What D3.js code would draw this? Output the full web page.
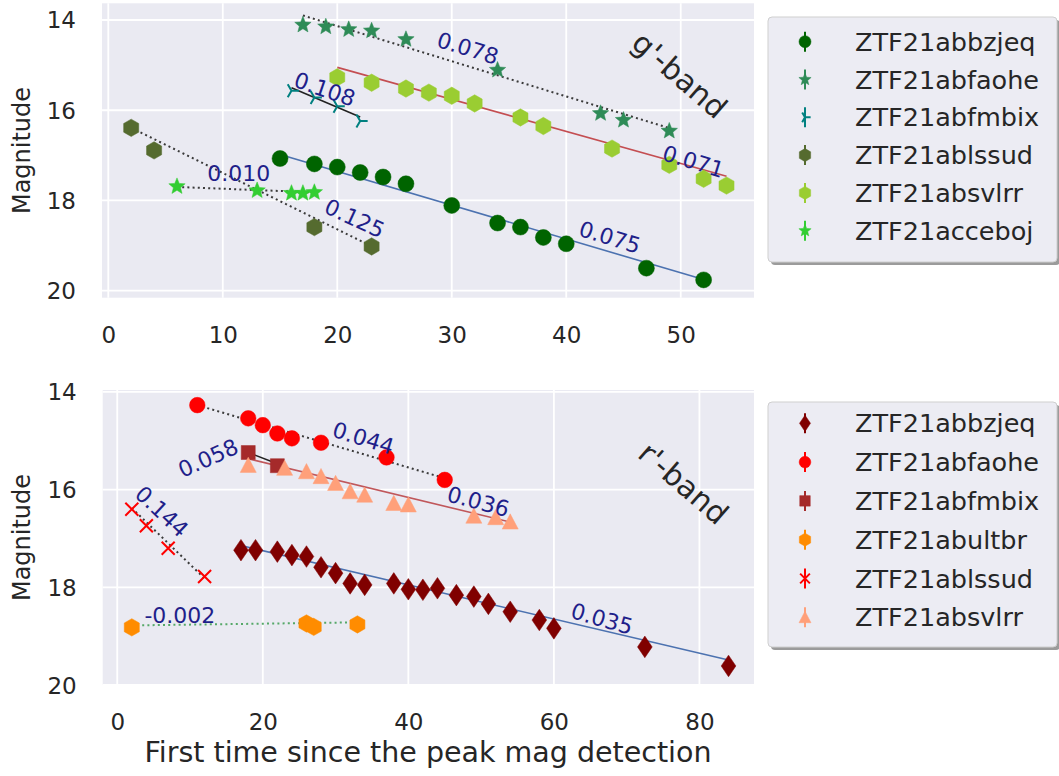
<!DOCTYPE html>
<html>
<head>
<meta charset="utf-8">
<script src="https://cdn.jsdelivr.net/npm/d3@7"></script>
<style>
  body { margin: 0; background: #ffffff; }
  text { font-family: "DejaVu Sans", "Liberation Sans", sans-serif; fill: #262626; }
</style>
</head>
<body>
<svg id="chart" width="1059" height="776"></svg>
<script>
// ---------------- g'-band light curves ----------------
const gObjects = ["ZTF21abbzjeq", "ZTF21abfaohe", "ZTF21abfmbix", "ZTF21ablssud", "ZTF21absvlrr", "ZTF21acceboj"];
const gDays = [
  [15, 18, 20, 22, 24, 26, 30, 34, 36, 38, 40, 47, 52],
  [17, 19, 21, 23, 26, 34, 43, 45, 49],
  [16, 18, 20, 22],
  [2, 4, 18, 23],
  [20, 23, 26, 28, 30, 32, 36, 38, 44, 49, 52, 54],
  [6, 13, 16, 17, 18]
];
const gMags = [
  [17.07, 17.19, 17.26, 17.38, 17.48, 17.63, 18.11, 18.50, 18.59, 18.82, 18.96, 19.50, 19.76],
  [14.11, 14.15, 14.21, 14.24, 14.43, 15.11, 16.07, 16.22, 16.46],
  [15.57, 15.72, 15.91, 16.24],
  [16.39, 16.89, 18.59, 19.02],
  [15.27, 15.39, 15.52, 15.61, 15.68, 15.85, 16.16, 16.35, 16.85, 17.21, 17.52, 17.67],
  [17.69, 17.78, 17.84, 17.84, 17.82]
];
// linear decline fits: mag = intercept + slope * day
const gSlopes = [0.075, 0.078, 0.108, 0.125, 0.071, 0.010];
const gIntercepts = [15.854, 12.574, 13.772, 16.140, 13.630, 17.640];

// ---------------- r'-band light curves ----------------
const rObjects = ["ZTF21abbzjeq", "ZTF21abfaohe", "ZTF21abfmbix", "ZTF21abultbr", "ZTF21ablssud", "ZTF21absvlrr"];
const rDays = [
  [17, 19, 22, 24, 26, 28, 30, 32, 34, 38, 40, 42, 44, 46.6, 49, 51, 54, 58, 60, 72.5, 84],
  [11, 18, 20, 22, 24, 28, 37, 45],
  [18, 22],
  [2, 26, 27, 33],
  [2, 4, 7, 12],
  [18, 23, 26, 28, 30, 32, 34, 38, 40, 49, 52, 54]
];
const rMags = [
  [17.24, 17.24, 17.27, 17.34, 17.37, 17.59, 17.71, 17.92, 17.95, 17.92, 18.04, 18.05, 18.02, 18.16, 18.19, 18.34, 18.50, 18.67, 18.84, 19.22, 19.61],
  [14.27, 14.54, 14.68, 14.85, 14.95, 15.04, 15.34, 15.80],
  [15.24, 15.51],
  [18.82, 18.74, 18.81, 18.76],
  [16.40, 16.74, 17.20, 17.78],
  [15.50, 15.56, 15.63, 15.73, 15.87, 16.04, 16.11, 16.28, 16.31, 16.54, 16.57, 16.66]
];
const rSlopes = [0.035, 0.044, 0.058, -0.002, 0.144, 0.036];
const rIntercepts = [16.550, 13.786, 14.196, 18.784, 16.090, 14.720];

// axis ticks
const gDayTicks = [0, 10, 20, 30, 40, 50];
const rDayTicks = [0, 20, 40, 60, 80];
const magTicks = [14, 16, 18, 20];

// ---------------- styling ----------------
const gStyle = {
  colors: ["#006400", "#2e8b57", "#008080", "#556b2f", "#9acd32", "#32cd32"],
  markers: ["circle", "star", "tri_right", "hexagon", "hexagon", "star"],
  sizes: [8, 8.6, 7.5, 8.7, 8.7, 8.6],
  fitColors: ["#4c72b0", "#3a3a3a", "#222222", "#3a3a3a", "#c44e52", "#3a3a3a"],
  fitDash: [null, "2,3.2", null, "2,3.2", null, "2,3.2"],
  // slope annotation anchors (day, mag) and text angle
  labelAt: [[43.8, 18.82], [31.4, 14.63], [18.9, 15.54], [21.5, 18.40], [51.1, 17.14], [11.4, 17.40]],
  labelAngle: [17, 17, 19, 25, 17, 0]
};
const rStyle = {
  colors: ["#800000", "#ff0000", "#a52a2a", "#ff8c00", "#ff0000", "#ffa07a"],
  markers: ["thin_diamond", "circle", "square", "hexagon", "x", "triangle_up"],
  sizes: [10.8, 7.8, 7, 8.7, 6.5, 8],
  fitColors: ["#4c72b0", "#3a3a3a", "#222222", "#55a868", "#3a3a3a", "#c0575b"],
  fitDash: [null, "2,3.2", null, "2,3.2", "2,3.2", null],
  labelAt: [[66.6, 18.65], [33.8, 14.95], [12.5, 15.36], [8.6, 18.57], [6.1, 16.45], [49.6, 16.25]],
  labelAngle: [16, 17, -24, 0, 43, 15]
};

const svg = d3.select("#chart");

function markerPath(kind, r) {
  const p = d3.path();
  if (kind === "circle") {
    return d3.symbol(d3.symbolCircle, Math.PI * r * r)();
  } else if (kind === "star") {
    for (let i = 0; i < 10; i++) {
      const a = (-90 + i * 36) * Math.PI / 180;
      const rr = i % 2 ? r * 0.44 : r;
      i ? p.lineTo(rr * Math.cos(a), rr * Math.sin(a)) : p.moveTo(rr * Math.cos(a), rr * Math.sin(a));
    }
    p.closePath();
  } else if (kind === "hexagon") {
    for (let i = 0; i < 6; i++) {
      const a = (-90 + i * 60) * Math.PI / 180;
      i ? p.lineTo(r * Math.cos(a), r * Math.sin(a)) : p.moveTo(r * Math.cos(a), r * Math.sin(a));
    }
    p.closePath();
  } else if (kind === "thin_diamond") {
    p.moveTo(0, -r); p.lineTo(0.68 * r, 0); p.lineTo(0, r); p.lineTo(-0.68 * r, 0); p.closePath();
  } else if (kind === "square") {
    p.rect(-r, -r, 2 * r, 2 * r);
  } else if (kind === "triangle_up") {
    p.moveTo(0, -r); p.lineTo(r, r * 0.9); p.lineTo(-r, r * 0.9); p.closePath();
  } else if (kind === "x") {
    p.moveTo(-r, -r); p.lineTo(r, r); p.moveTo(-r, r); p.lineTo(r, -r);
  } else if (kind === "tri_right") {
    p.moveTo(0, 0); p.lineTo(r, 0);
    p.moveTo(0, 0); p.lineTo(-0.5 * r, -0.866 * r);
    p.moveTo(0, 0); p.lineTo(-0.5 * r, 0.866 * r);
  }
  return p.toString();
}
const strokeOnly = k => k === "x" || k === "tri_right";

function drawPanel(cfg) {
  const { top, bottom, left, right, xDomain, yDomain, xTicks, names, days, mags, slopes, intercepts, style, band, bandAt } = cfg;
  const x = d3.scaleLinear().domain(xDomain).range([left, right]);
  const y = d3.scaleLinear().domain(yDomain).range([top, bottom]);
  const g = svg.append("g");

  g.append("rect").attr("x", left).attr("y", top)
    .attr("width", right - left).attr("height", bottom - top).attr("fill", "#eaeaf2");

  // grid
  const grid = g.append("g");
  grid.selectAll("line.vx").data(xTicks).join("line")
    .attr("x1", d => x(d)).attr("x2", d => x(d)).attr("y1", top).attr("y2", bottom)
    .attr("stroke", "#ffffff").attr("stroke-width", 1.8);
  grid.selectAll("line.hy").data(magTicks.filter(d => y(d) <= bottom + 0.5)).join("line")
    .attr("x1", left).attr("x2", right).attr("y1", d => y(d)).attr("y2", d => y(d))
    .attr("stroke", "#ffffff").attr("stroke-width", 1.8);

  // axes (tick labels only, no spines)
  const xAxis = d3.axisBottom(x).tickValues(xTicks).tickSize(0).tickPadding(0).tickFormat(d3.format("d"));
  const xa = g.append("g").attr("transform", `translate(0,${bottom})`).call(xAxis);
  xa.select(".domain").remove();
  xa.selectAll("text").attr("dy", null).attr("y", 37).attr("dominant-baseline", "central")
    .style("font-size", "23px").style("font-family", "DejaVu Sans").attr("fill", "#262626");

  const yAxis = d3.axisLeft(y).tickValues(magTicks).tickSize(0).tickPadding(0).tickFormat(d3.format("d"));
  const ya = g.append("g").attr("transform", `translate(${left},0)`).call(yAxis);
  ya.select(".domain").remove();
  ya.selectAll("text").attr("dy", null).attr("x", -26).attr("dominant-baseline", "central")
    .style("font-size", "23px").style("font-family", "DejaVu Sans").attr("fill", "#262626");

  g.append("text").attr("transform", `translate(22,${(top + bottom) / 2}) rotate(-90)`)
    .attr("text-anchor", "middle").attr("dominant-baseline", "central")
    .style("font-size", "24px").text("Magnitude");

  // fitted decline lines
  names.forEach((n, i) => {
    const x0 = d3.min(days[i]), x1 = d3.max(days[i]);
    g.append("line")
      .attr("x1", x(x0)).attr("y1", y(intercepts[i] + slopes[i] * x0))
      .attr("x2", x(x1)).attr("y2", y(intercepts[i] + slopes[i] * x1))
      .attr("stroke", style.fitColors[i])
      .attr("stroke-width", style.fitDash[i] ? 2 : 1.6)
      .attr("stroke-dasharray", style.fitDash[i]);
  });

  // photometry points
  names.forEach((n, i) => {
    const k = style.markers[i];
    const pts = days[i].map((d, j) => [d, mags[i][j]]);
    g.append("g").selectAll("path").data(pts).join("path")
      .attr("transform", d => `translate(${x(d[0])},${y(d[1])})`)
      .attr("d", markerPath(k, style.sizes[i]))
      .attr("fill", strokeOnly(k) ? "none" : style.colors[i])
      .attr("stroke", style.colors[i])
      .attr("stroke-width", strokeOnly(k) ? 2 : 0.5);
  });

  // slope annotations
  names.forEach((n, i) => {
    const [lx, ly] = style.labelAt[i];
    g.append("text")
      .attr("transform", `translate(${x(lx)},${y(ly)}) rotate(${style.labelAngle[i]})`)
      .attr("text-anchor", "middle").attr("dominant-baseline", "central")
      .style("font-size", "22px").style("fill", "#1f1f8a")
      .text(d3.format(".3f")(slopes[i]).replace("−", "-"));
  });

  // band name
  g.append("text")
    .attr("transform", `translate(${x(bandAt[0])},${y(bandAt[1])}) rotate(41)`)
    .attr("text-anchor", "middle").attr("dominant-baseline", "central")
    .style("font-size", "30px").text(band);

  // legend
  const lg = cfg.legend;
  g.append("rect").attr("x", lg.x + 3).attr("y", lg.y + 3).attr("width", lg.w).attr("height", lg.h)
    .attr("rx", 4).attr("fill", "#7a7a7a").attr("opacity", 0.75);
  g.append("rect").attr("x", lg.x).attr("y", lg.y).attr("width", lg.w).attr("height", lg.h)
    .attr("rx", 4).attr("fill", "#ececf3").attr("stroke", "#cfcfcf").attr("stroke-width", 1);
  names.forEach((n, i) => {
    const cy = lg.y + lg.first + i * lg.step;
    const k = style.markers[i];
    g.append("line").attr("x1", lg.x + 37).attr("x2", lg.x + 37)
      .attr("y1", cy - 10).attr("y2", cy + 10)
      .attr("stroke", style.colors[i]).attr("stroke-width", 2);
    g.append("path").attr("transform", `translate(${lg.x + 37},${cy})`)
      .attr("d", markerPath(k, style.sizes[i] * 0.75))
      .attr("fill", strokeOnly(k) ? "none" : style.colors[i])
      .attr("stroke", style.colors[i]).attr("stroke-width", strokeOnly(k) ? 2 : 0.5);
    g.append("text").attr("x", lg.x + 87).attr("y", cy)
      .attr("dominant-baseline", "central").style("font-size", "25.5px").text(n);
  });
}

drawPanel({
  top: 3.3, bottom: 297.7, left: 102, right: 754,
  xDomain: [-0.55, 56.4], yDomain: [13.63, 20.155], xTicks: gDayTicks,
  names: gObjects, days: gDays, mags: gMags, slopes: gSlopes, intercepts: gIntercepts,
  style: gStyle, band: "g'-band", bandAt: [49.9, 15.22],
  legend: { x: 768, y: 17, w: 289, h: 245, first: 24.7, step: 37.8 }
});
drawPanel({
  top: 390, bottom: 685, left: 102.7, right: 754,
  xDomain: [-2.0, 87.5], yDomain: [13.96, 20.0], xTicks: rDayTicks,
  names: rObjects, days: rDays, mags: rMags, slopes: rSlopes, intercepts: rIntercepts,
  style: rStyle, band: "r'-band", bandAt: [77.8, 15.87],
  legend: { x: 768, y: 402, w: 289, h: 245, first: 21.3, step: 38.8 }
});

svg.append("text").attr("x", 428).attr("y", 752)
  .attr("text-anchor", "middle").attr("dominant-baseline", "central")
  .style("font-size", "28.5px").text("First time since the peak mag detection");
</script>
</body>
</html>
